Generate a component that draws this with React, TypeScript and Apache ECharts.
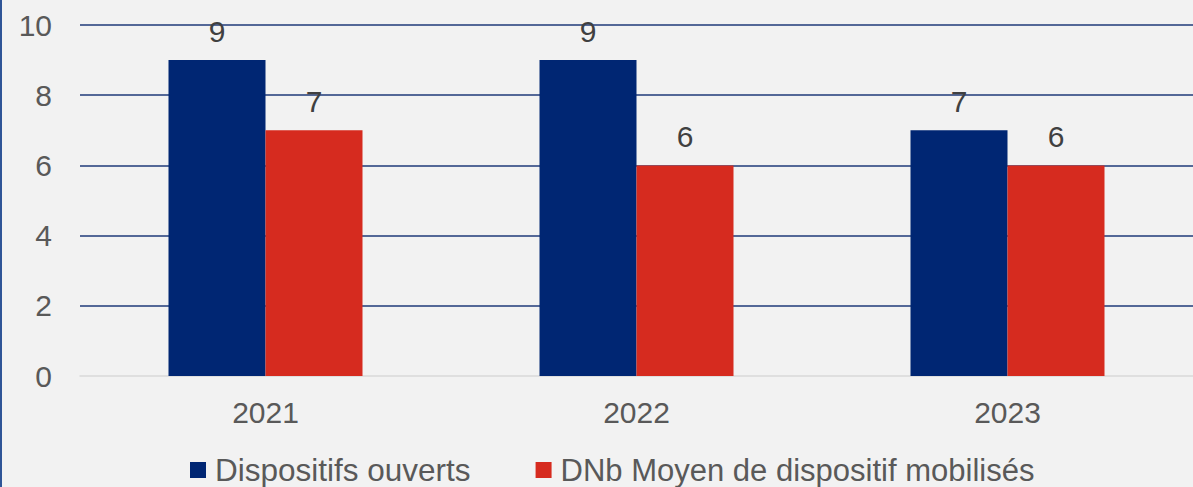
import React, { useEffect, useRef } from "react";
import * as echarts from "echarts";

const categories = ["2021", "2022", "2023"];
const dispositifsOuverts = [9, 9, 7];
const nbMoyen = [7, 6, 6];
const seriesNames = ["Dispositifs ouverts", "DNb Moyen de dispositif mobilisés"];
const yTicks = { min: 0, max: 10, interval: 2 };

const FONT = "'Liberation Sans', Arial, sans-serif";
const NAVY = "#1f3a78";

export default function App() {
  const ref = useRef<HTMLDivElement>(null);
  useEffect(() => {
    document.body.style.margin = "0";
    const chart = echarts.init(ref.current!, undefined, { renderer: "svg" });
    chart.setOption({
      animation: false,
      backgroundColor: "#f2f2f2",
      textStyle: { fontFamily: FONT },
      graphic: [
        {
          type: "line",
          shape: { x1: 1, y1: 0, x2: 1, y2: 487 },
          style: { stroke: "#2f5597", lineWidth: 2 },
        },
      ],
      grid: { left: 80, right: 0, top: 25, bottom: 111, containLabel: false },
      legend: {
        top: 454,
        left: 190,
        padding: 0,
        itemWidth: 16,
        itemHeight: 16,
        itemGap: 65,
        icon: "rect",
        textStyle: { fontSize: 31, color: "#595959", fontFamily: FONT, padding: [0, 0, 0, 4] },
        data: [
          { name: seriesNames[0], textStyle: { fontSize: 31.5 } },
          { name: seriesNames[1] },
        ],
      },
      xAxis: {
        type: "category",
        data: categories,
        axisLine: { show: true, lineStyle: { color: "#d9d9d9", width: 1.5 } },
        axisTick: { show: false },
        axisLabel: { fontSize: 30, color: "#595959", margin: 21, fontFamily: FONT },
      },
      yAxis: {
        type: "value",
        min: yTicks.min,
        max: yTicks.max,
        interval: yTicks.interval,
        axisLine: { show: false },
        axisTick: { show: false },
        axisLabel: { fontSize: 30, color: "#595959", margin: 28, fontFamily: FONT },
        splitLine: {
          show: true,
          lineStyle: {
            color: ["rgba(0,0,0,0)", NAVY, NAVY, NAVY, NAVY, NAVY],
            width: 1.5,
          },
        },
      },
      series: [
        {
          name: seriesNames[0],
          type: "bar",
          data: dispositifsOuverts,
          barWidth: 97,
          barGap: "0%",
          itemStyle: { color: "#002673" },
          label: {
            show: true,
            position: "top",
            distance: 14,
            fontSize: 30,
            color: "#404040",
            fontFamily: FONT,
          },
        },
        {
          name: seriesNames[1],
          type: "bar",
          data: nbMoyen,
          barWidth: 97,
          barGap: "0%",
          itemStyle: { color: "#d62b1f" },
          label: {
            show: true,
            position: "top",
            distance: 14,
            fontSize: 30,
            color: "#404040",
            fontFamily: FONT,
          },
        },
      ],
    });
    return () => chart.dispose();
  }, []);
  return (
    <div
      ref={ref}
      style={{ position: "fixed", left: 0, top: 0, width: 1193, height: 487 }}
    />
  );
}
